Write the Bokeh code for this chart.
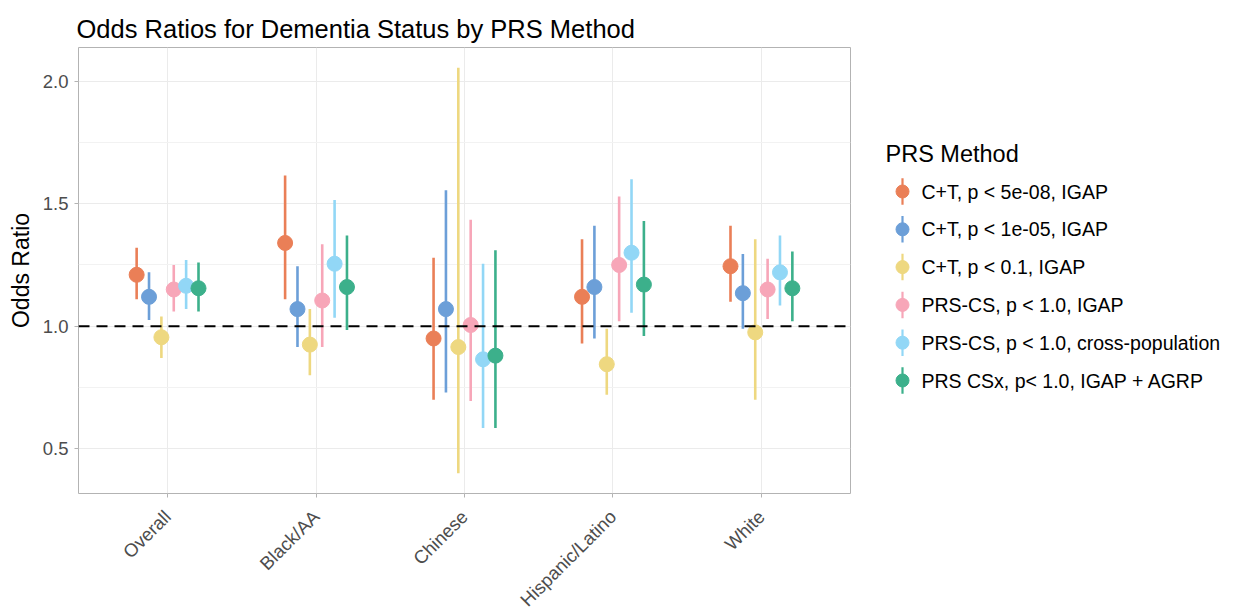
import math

from bokeh.core.properties import value
from bokeh.embed import file_html
from bokeh.layouts import row
from bokeh.models import ColumnDataSource, FixedTicker, Range1d, Span
from bokeh.plotting import figure
from bokeh.resources import INLINE

# ---- data -----------------------------------------------------------------
groups = ["Overall", "Black/AA", "Chinese", "Hispanic/Latino", "White"]

methods = [
    "C+T, p < 5e-08, IGAP",
    "C+T, p < 1e-05, IGAP",
    "C+T, p < 0.1, IGAP",
    "PRS-CS, p < 1.0, IGAP",
    "PRS-CS, p < 1.0, cross-population",
    "PRS CSx, p< 1.0, IGAP + AGRP",
]

colors = ["#EA7F57", "#6C9FD8", "#EED880", "#F7A6B8", "#92D7F6", "#3CB08B"]

# odds ratio, lower and upper 95% CI per method (one value per group)
or_ct_5e08 = [1.21, 1.34, 0.95, 1.12, 1.245]
lo_ct_5e08 = [1.11, 1.11, 0.70, 0.93, 1.10]
hi_ct_5e08 = [1.32, 1.615, 1.28, 1.355, 1.41]

or_ct_1e05 = [1.12, 1.07, 1.07, 1.16, 1.135]
lo_ct_1e05 = [1.025, 0.915, 0.73, 0.95, 0.99]
hi_ct_1e05 = [1.22, 1.245, 1.555, 1.41, 1.295]

or_ct_01 = [0.955, 0.925, 0.915, 0.845, 0.975]
lo_ct_01 = [0.87, 0.80, 0.40, 0.72, 0.70]
hi_ct_01 = [1.04, 1.07, 2.055, 0.99, 1.355]

or_prscs_igap = [1.15, 1.105, 1.005, 1.25, 1.15]
lo_prscs_igap = [1.06, 0.915, 0.695, 1.02, 1.03]
hi_prscs_igap = [1.25, 1.335, 1.435, 1.53, 1.275]

or_prscs_cross = [1.165, 1.255, 0.865, 1.30, 1.22]
lo_prscs_cross = [1.07, 1.035, 0.585, 1.055, 1.085]
hi_prscs_cross = [1.27, 1.515, 1.255, 1.60, 1.37]

or_prscsx = [1.155, 1.16, 0.88, 1.17, 1.155]
lo_prscsx = [1.06, 0.985, 0.585, 0.96, 1.02]
hi_prscsx = [1.26, 1.37, 1.31, 1.43, 1.305]

y_ticks = [0.5, 1.0, 1.5, 2.0]
y_tick_labels = ["0.5", "1.0", "1.5", "2.0"]
y_minor_ticks = [0.75, 1.25, 1.75]

odds = [or_ct_5e08, or_ct_1e05, or_ct_01, or_prscs_igap, or_prscs_cross, or_prscsx]
lower = [lo_ct_5e08, lo_ct_1e05, lo_ct_01, lo_prscs_igap, lo_prscs_cross, lo_prscsx]
upper = [hi_ct_5e08, hi_ct_1e05, hi_ct_01, hi_prscs_igap, hi_prscs_cross, hi_prscsx]

# ---- styling --------------------------------------------------------------
FONT = "Liberation Sans"
GRID = "#EBEBEB"
BORDER = "#B3B3B3"
TICK_TEXT = "#4D4D4D"

FRAME_LEFT, FRAME_TOP = 78, 47
FRAME_W, FRAME_H = 772, 446

dodge_width = 0.5
n_methods = len(methods)
step = dodge_width / n_methods

all_lo = min(min(v) for v in lower)
all_hi = max(max(v) for v in upper)
pad = (all_hi - all_lo) * 0.05

p = figure(
    frame_width=FRAME_W,
    frame_height=FRAME_H,
    x_range=Range1d(0.4, len(groups) + 0.6),
    y_range=Range1d(all_lo - pad, all_hi + pad),
    output_backend="svg",
    toolbar_location=None,
    min_border_left=FRAME_LEFT,
    min_border_right=2,
    min_border_top=FRAME_TOP,
    min_border_bottom=0,
    background_fill_color="white",
    border_fill_color="white",
    outline_line_color=BORDER,
    outline_line_width=1,
)

p.title.text = "Odds Ratios for Dementia Status by PRS Method"
p.title.text_font = FONT
p.title.text_font_size = "25.5px"
p.title.text_font_style = "normal"
p.title.text_color = "black"
p.title.offset = -2

# y axis
p.yaxis.ticker = FixedTicker(ticks=y_ticks, minor_ticks=y_minor_ticks)
p.yaxis.major_label_overrides = dict(zip(y_ticks, y_tick_labels))
p.yaxis.axis_label = "Odds Ratio"
p.yaxis.axis_label_text_font = FONT
p.yaxis.axis_label_text_font_size = "23px"
p.yaxis.axis_label_text_font_style = "normal"
p.yaxis.axis_label_text_color = "black"
p.yaxis.axis_label_standoff = 6

# x axis
p.xaxis.ticker = FixedTicker(ticks=list(range(1, len(groups) + 1)))
p.xaxis.major_label_overrides = {i + 1: g for i, g in enumerate(groups)}
p.xaxis.major_label_orientation = math.pi / 4

for ax in (p.xaxis, p.yaxis):
    ax.axis_line_color = None
    ax.major_tick_line_color = BORDER
    ax.major_tick_in = 0
    ax.major_tick_out = 4
    ax.minor_tick_line_color = None
    ax.major_label_text_font = FONT
    ax.major_label_text_font_size = "18.5px"
    ax.major_label_text_color = TICK_TEXT
    ax.major_label_standoff = 6

p.xaxis.major_label_standoff = 16

p.xgrid.grid_line_color = GRID
p.xgrid.grid_line_width = 1
p.ygrid.grid_line_color = GRID
p.ygrid.grid_line_width = 1
p.ygrid.minor_grid_line_color = "#F2F2F2"
p.ygrid.minor_grid_line_width = 1

# point ranges, dodged within each group
for j in range(n_methods):
    offset = (j - (n_methods - 1) / 2) * step
    src = ColumnDataSource(
        dict(
            x=[i + 1 + offset for i in range(len(groups))],
            y=odds[j],
            lo=lower[j],
            hi=upper[j],
        )
    )
    p.segment(x0="x", y0="lo", x1="x", y1="hi", source=src,
              line_color=colors[j], line_width=2.6)
    p.scatter(x="x", y="y", source=src, size=15, marker="circle",
              fill_color=colors[j], line_color=colors[j])

p.add_layout(Span(location=1.0, dimension="width", line_color="black",
                  line_dash="11 7", line_width=2.2))

# ---- legend panel ---------------------------------------------------------
# rows are one unit apart; the panel frame lines up with the plot frame
row_gap = 37.8
first_row = 191.0
leg = figure(
    frame_width=386,
    frame_height=FRAME_H,
    x_range=Range1d(0, 386),
    y_range=Range1d((FRAME_TOP + FRAME_H - first_row) / row_gap,
                    (FRAME_TOP - first_row) / row_gap),
    x_axis_type=None,
    y_axis_type=None,
    output_backend="svg",
    toolbar_location=None,
    min_border=0,
    min_border_top=FRAME_TOP,
    outline_line_color=None,
    background_fill_color="white",
    border_fill_color="white",
)

idx = list(range(n_methods))
key_src = ColumnDataSource(dict(
    x=[50] * n_methods,
    y=idx,
    y0=[i - 0.35 for i in idx],
    y1=[i + 0.35 for i in idx],
    c=colors,
))
leg.segment(x0="x", y0="y0", x1="x", y1="y1", source=key_src,
            line_color="c", line_width=2.2)
leg.scatter(x="x", y="y", source=key_src, size=13, marker="circle",
            fill_color="c", line_color="c")
leg.text(x=[69] * n_methods, y=idx, text=methods, text_baseline="middle",
         text_align="left", text_font=value(FONT), text_font_size="19.5px",
         text_color="black")
leg.text(x=[33], y=[-1], text=["PRS Method"], text_baseline="middle",
         text_align="left", text_font=value(FONT), text_font_size="23.5px",
         text_color="black")

layout = row(p, leg)

open("out.html", "w").write(file_html(layout, INLINE))
